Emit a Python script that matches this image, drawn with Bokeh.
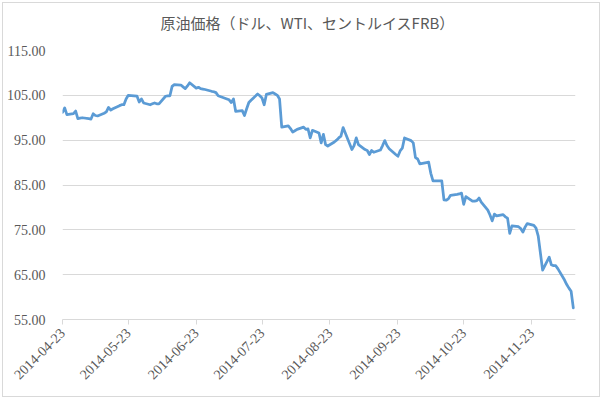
import pandas as pd
from bokeh.plotting import figure
from bokeh.models import (FixedTicker, NumeralTickFormatter, DatetimeTickFormatter,
                          Range1d, ColumnDataSource, Title, InlineStyleSheet)
from bokeh.embed import file_html
from bokeh.resources import INLINE

title_text = "原油価格（ドル、WTI、セントルイスFRB）"

dates = [
    "2014-04-23", "2014-04-24", "2014-04-25", "2014-04-28", "2014-04-29", "2014-04-30",
    "2014-05-01", "2014-05-02", "2014-05-05", "2014-05-06", "2014-05-07", "2014-05-08",
    "2014-05-09", "2014-05-12", "2014-05-13", "2014-05-14", "2014-05-15", "2014-05-16",
    "2014-05-19", "2014-05-20", "2014-05-21", "2014-05-22", "2014-05-23", "2014-05-27",
    "2014-05-28", "2014-05-29", "2014-05-30",
    "2014-06-02", "2014-06-03", "2014-06-04", "2014-06-05", "2014-06-06", "2014-06-09",
    "2014-06-10", "2014-06-11", "2014-06-12", "2014-06-13", "2014-06-16", "2014-06-17",
    "2014-06-18", "2014-06-19", "2014-06-20", "2014-06-23", "2014-06-24", "2014-06-25",
    "2014-06-26", "2014-06-27", "2014-06-30",
    "2014-07-01", "2014-07-02", "2014-07-03", "2014-07-07", "2014-07-08", "2014-07-09",
    "2014-07-10", "2014-07-11", "2014-07-14", "2014-07-15", "2014-07-16", "2014-07-17",
    "2014-07-18", "2014-07-21", "2014-07-22", "2014-07-23", "2014-07-24", "2014-07-25",
    "2014-07-28", "2014-07-29", "2014-07-30", "2014-07-31",
    "2014-08-01", "2014-08-04", "2014-08-05", "2014-08-06", "2014-08-07", "2014-08-08",
    "2014-08-11", "2014-08-12", "2014-08-13", "2014-08-14", "2014-08-15", "2014-08-18",
    "2014-08-19", "2014-08-20", "2014-08-21", "2014-08-22", "2014-08-25", "2014-08-26",
    "2014-08-27", "2014-08-28", "2014-08-29",
    "2014-09-02", "2014-09-03", "2014-09-04", "2014-09-05", "2014-09-08", "2014-09-09",
    "2014-09-10", "2014-09-11", "2014-09-12", "2014-09-15", "2014-09-16", "2014-09-17",
    "2014-09-18", "2014-09-19", "2014-09-22", "2014-09-23", "2014-09-24", "2014-09-25",
    "2014-09-26", "2014-09-29", "2014-09-30",
    "2014-10-01", "2014-10-02", "2014-10-03", "2014-10-06", "2014-10-07", "2014-10-08",
    "2014-10-09", "2014-10-10", "2014-10-13", "2014-10-14", "2014-10-15", "2014-10-16",
    "2014-10-17", "2014-10-20", "2014-10-21", "2014-10-22", "2014-10-23", "2014-10-24",
    "2014-10-27", "2014-10-28", "2014-10-29", "2014-10-30", "2014-10-31",
    "2014-11-03", "2014-11-04", "2014-11-05", "2014-11-06", "2014-11-07", "2014-11-10",
    "2014-11-11", "2014-11-12", "2014-11-13", "2014-11-14", "2014-11-17", "2014-11-18",
    "2014-11-19", "2014-11-20", "2014-11-21", "2014-11-24", "2014-11-25", "2014-11-26",
    "2014-11-28",
    "2014-12-01", "2014-12-02", "2014-12-03", "2014-12-04", "2014-12-05", "2014-12-08",
    "2014-12-09", "2014-12-10", "2014-12-11", "2014-12-12",
]

prices = [
    101.2, 102.2, 100.7, 100.9, 101.5, 99.8,
    99.9, 100.0, 99.8, 99.7, 100.9, 100.5,
    100.4, 101.0, 101.3, 102.3, 101.7, 102.0,
    102.7, 102.9, 102.9, 104.2, 105.0, 104.8,
    103.5, 104.2, 103.3,
    102.9, 103.1, 103.3, 103.1, 103.1, 104.8,
    104.9, 104.9, 107.0, 107.4, 107.3, 106.9,
    106.5, 107.1, 107.8, 106.6, 106.8, 106.5,
    106.4, 106.3, 105.9,
    105.8, 105.6, 104.9, 104.2, 104.0, 103.4,
    104.2, 101.4, 101.6, 100.5, 102.0, 103.4,
    103.9, 105.3, 104.9, 104.4, 102.9, 105.2,
    105.6, 105.3, 105.0, 104.2,
    97.9, 98.2, 97.6, 96.8, 97.1, 97.4,
    97.9, 97.4, 97.5, 95.5, 97.2, 96.6,
    94.4, 96.3, 94.0, 93.7, 94.6, 95.0,
    95.5, 95.9, 97.8,
    92.9, 93.8, 95.5, 94.0, 92.9, 92.7,
    91.8, 92.7, 92.3, 92.8, 93.8, 94.9,
    93.8, 93.1, 91.8, 91.4, 92.6, 93.2,
    95.5, 94.9, 94.4,
    91.1, 90.8, 89.7, 90.0, 90.1, 87.6,
    85.9, 85.9, 85.9, 81.7, 81.6, 81.9,
    82.7, 82.9, 83.0, 83.2, 80.7, 82.4,
    81.4, 81.4, 81.5, 82.1, 81.2,
    79.4, 78.3, 77.0, 78.5, 78.1, 78.4,
    77.9, 77.6, 74.2, 75.9, 75.7, 75.3,
    74.5, 75.6, 76.4, 76.0, 75.4, 73.6,
    66.0,
    68.9, 67.2, 67.0, 67.0, 66.3, 63.8,
    62.8, 62.0, 61.3, 57.6,
]

tick_labels = ["2014-04-23", "2014-05-23", "2014-06-23", "2014-07-23",
               "2014-08-23", "2014-09-23", "2014-10-23", "2014-11-23"]
y_ticks = [55, 65, 75, 85, 95, 105, 115]

x_start = "2014-04-23"
x_end = "2014-12-13"

TEXT = "#595959"
GRID = "#d9d9d9"
SERIF = "Liberation Serif"

src = ColumnDataSource(data=dict(date=pd.to_datetime(dates), price=prices))

p = figure(width=603, height=398, x_axis_type="datetime",
           output_backend="svg", toolbar_location=None,
           x_range=Range1d(pd.Timestamp(x_start), pd.Timestamp(x_end)),
           y_range=Range1d(55, 115),
           min_border_left=62, min_border_right=28,
           min_border_top=50, min_border_bottom=79)
p.outline_line_color = None
p.background_fill_color = "white"
p.border_fill_color = "white"

# light outer chart border drawn above the canvas
p.stylesheets = [InlineStyleSheet(css=(
    ":host::after { content: ''; position: absolute; left: 2px; top: 2px; "
    "width: 596px; height: 393px; border: 1px solid #d9d9d9; "
    "pointer-events: none; z-index: 100; }"
))]

p.title.text = title_text
p.title.align = "left"
p.title.offset = 98
p.title.text_font = "Noto Sans CJK JP"
p.title.text_font_size = "15px"
p.title.text_font_style = "normal"
p.title.text_color = TEXT

# spacer between title and plot frame
p.add_layout(Title(text=" ", text_font_size="1px"), "above")

p.line(x="date", y="price", source=src, line_color="#5b9bd5", line_width=2.75,
       line_join="round", line_cap="round")

# y axis
p.yaxis.ticker = FixedTicker(ticks=y_ticks)
p.yaxis.formatter = NumeralTickFormatter(format="0.00")
p.yaxis.axis_line_color = None
p.yaxis.major_tick_line_color = None
p.yaxis.minor_tick_line_color = None
p.yaxis.major_label_standoff = 11
p.yaxis.major_label_text_font = SERIF
p.yaxis.major_label_text_font_size = "14px"
p.yaxis.major_label_text_color = TEXT
p.ygrid.grid_line_color = GRID
p.ygrid.grid_line_width = 1

# x axis
tick_ms = [pd.Timestamp(t).value // 10**6 for t in tick_labels]
p.xaxis.ticker = FixedTicker(ticks=tick_ms)
fmt = "%Y-%m-%d"
p.xaxis.formatter = DatetimeTickFormatter(days=fmt, months=fmt, years=fmt,
                                          hours=fmt, minutes=fmt)
p.xaxis.axis_line_color = GRID
p.xaxis.major_tick_line_color = GRID
p.xaxis.major_tick_out = 5
p.xaxis.major_tick_in = 0
p.xaxis.minor_tick_line_color = None
p.xaxis.major_label_orientation = 0.785398
p.xaxis.major_label_standoff = 6
p.xaxis.major_label_text_font = SERIF
p.xaxis.major_label_text_font_size = "14px"
p.xaxis.major_label_text_color = TEXT
p.xgrid.grid_line_color = None

open("out.html", "w").write(file_html(p, INLINE))
